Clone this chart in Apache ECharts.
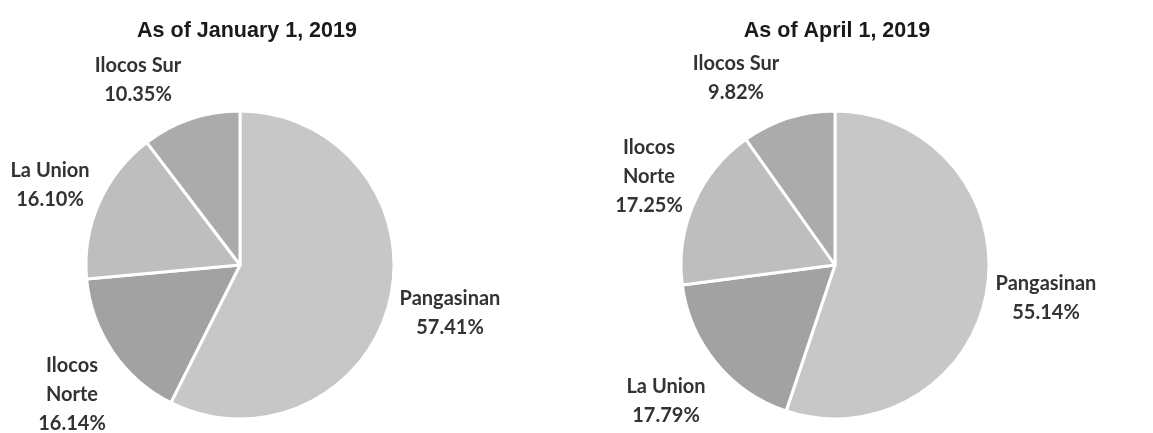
<!DOCTYPE html>
<html>
<head>
<meta charset="utf-8">
<script src="https://cdn.jsdelivr.net/npm/echarts@6/dist/echarts.min.js"></script>
<style>
  html, body { margin: 0; padding: 0; background: #fff; }
  #chart { width: 1153px; height: 433px; }
</style>
</head>
<body>
<div id="chart"></div>
<script>
// slices clockwise from 12 o'clock
const titles = ['As of January 1, 2019', 'As of April 1, 2019']
const janNames = ['Pangasinan', 'Ilocos Norte', 'La Union', 'Ilocos Sur']
const janValues = [57.41, 16.14, 16.10, 10.35]
const aprNames = ['Pangasinan', 'La Union', 'Ilocos Norte', 'Ilocos Sur']
const aprValues = [55.14, 17.79, 17.25, 9.82]

// slice greys by position
const greys = ['#c7c7c7', '#a2a2a2', '#bebebe', '#ababab']

// where the labels sit (centre of the text block)
const labelSpots = [
  [[450, 313], [72, 395], [50, 185], [138, 80]],
  [[1046, 298], [666, 401], [649, 177], [736, 78]]
]

const myChart = echarts.init(document.getElementById('chart'))

const fmt = p => {
  const name = p.name === 'Ilocos Norte' ? 'Ilocos\nNorte' : p.name
  return name + '\n' + p.value.toFixed(2) + '%'
}

const makePie = (names, values, idx, center) => ({
  type: 'pie',
  center: center,
  radius: 154,
  startAngle: 90,
  clockwise: true,
  animation: false,
  silent: true,
  itemStyle: { borderColor: '#fff', borderWidth: 3 },
  label: {
    show: true,
    formatter: fmt,
    fontFamily: 'Lato',
    fontWeight: 'bold',
    fontSize: 20,
    lineHeight: 29,
    color: '#333',
    align: 'center',
    overflow: 'none'
  },
  labelLine: { show: false },
  labelLayout: params => ({
    x: labelSpots[idx][params.dataIndex][0],
    y: labelSpots[idx][params.dataIndex][1],
    align: 'center',
    verticalAlign: 'middle',
    width: 140
  }),
  data: names.map((n, i) => ({ name: n, value: values[i], itemStyle: { color: greys[i] } }))
})

const option = {
  backgroundColor: '#fff',
  title: [
    {
      text: titles[0], left: 242, top: 15, textAlign: 'center',
      textStyle: { fontFamily: 'Liberation Sans', fontWeight: 'bold', fontSize: 21.5, color: '#1a1a1a' }
    },
    {
      text: titles[1], left: 832, top: 15, textAlign: 'center',
      textStyle: { fontFamily: 'Liberation Sans', fontWeight: 'bold', fontSize: 21.5, color: '#1a1a1a' }
    }
  ],
  series: [
    makePie(janNames, janValues, 0, [240, 265]),
    makePie(aprNames, aprValues, 1, [835, 265])
  ]
}

myChart.setOption(option)
</script>
</body>
</html>
